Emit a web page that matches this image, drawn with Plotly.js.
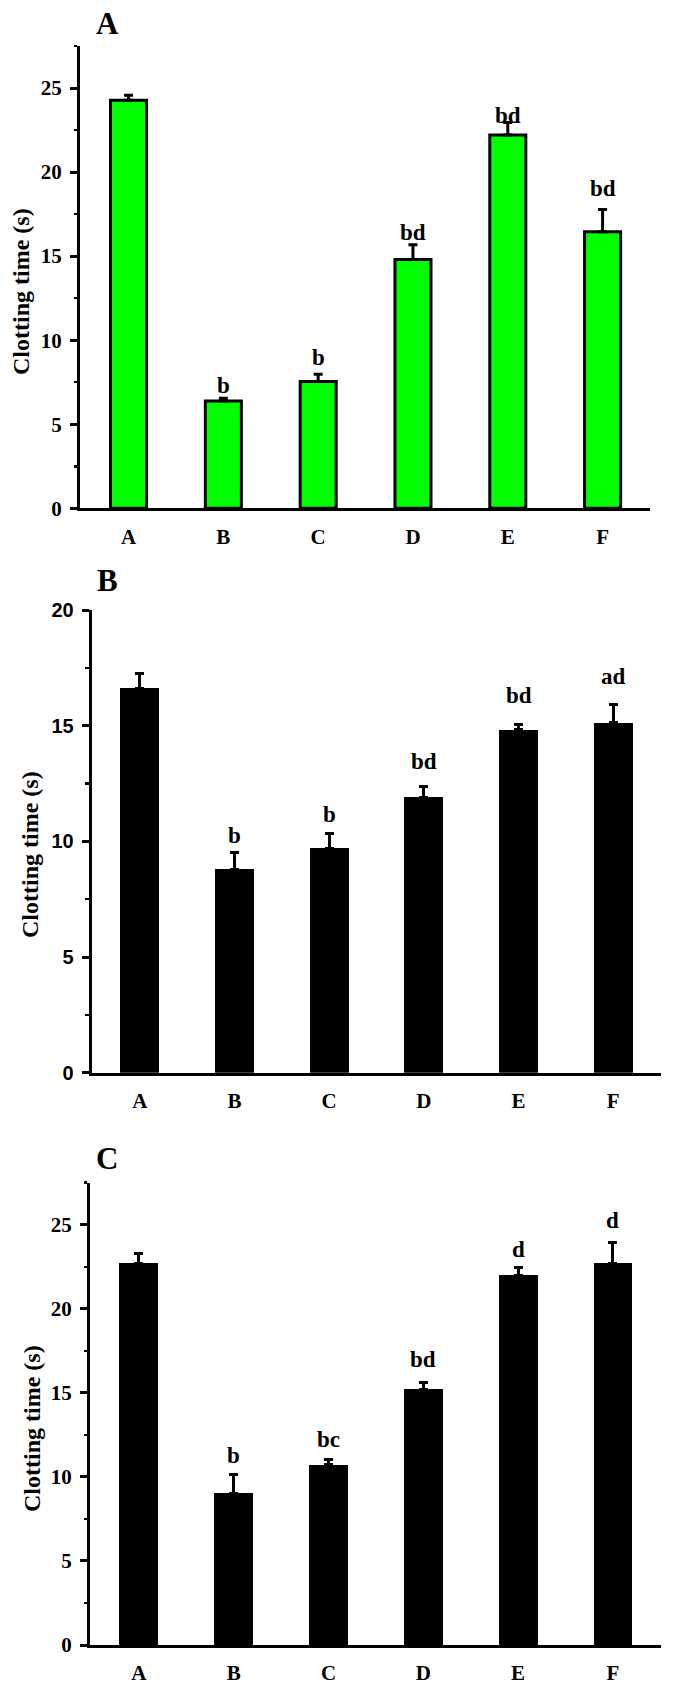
<!DOCTYPE html>
<html>
<head>
<meta charset="utf-8">
<script src="https://cdn.plot.ly/plotly-3.0.1.min.js"></script>
<style>
  html, body { margin: 0; padding: 0; background: #ffffff; }
  #chart { width: 673px; height: 1686px; }
</style>
</head>
<body>
<div id="chart"></div>
<script>
// ---- Data ----
const categories = ['A', 'B', 'C', 'D', 'E', 'F'];

const valuesA = [24.27, 6.38, 7.55, 14.80, 22.20, 16.45];
const errorsA = [0.30, 0.17, 0.42, 0.88, 0.75, 1.32];
const labelsA = ['', 'b', 'b', 'bd', 'bd', 'bd'];
const labelYA = [null, 7.30, 9.00, 16.40, 23.36, 19.04];

const valuesB = [16.61, 8.80, 9.71, 11.90, 14.82, 15.13];
const errorsB = [0.66, 0.71, 0.61, 0.48, 0.25, 0.78];
const labelsB = ['', 'b', 'b', 'bd', 'bd', 'ad'];
const labelYB = [null, 10.24, 11.18, 13.45, 16.30, 17.13];

const valuesC = [22.70, 9.03, 10.71, 15.22, 21.99, 22.72];
const errorsC = [0.56, 1.10, 0.32, 0.39, 0.47, 1.25];
const labelsC = ['', 'b', 'bc', 'bd', 'd', 'd'];
const labelYC = [null, 11.29, 12.21, 17.00, 23.54, 25.26];

const panelLetters = ['A', 'B', 'C'];
const yTitle = 'Clotting time (s)';

// ---- Layout helpers ----
const W = 673, H = 1686;
const px = x => x / W;
const py = y => 1 - y / H;

const SERIF = 'Liberation Serif, Times New Roman, serif';
const SANS = 'Liberation Sans, Arial, sans-serif';

// plot boxes (pixel coordinates)
const boxes = [
  {l: 80, r: 650, t: 46, b: 508.3, range: [-0.512, 5.50], yr: [0, 27.5], tickFont: SERIF, tickSize: 21},
  {l: 91.7, r: 661.3, t: 610, b: 1072.7, range: [-0.507, 5.508], yr: [0, 20], tickFont: SANS, tickSize: 20},
  {l: 90, r: 661.3, t: 1182.7, b: 1645, range: [-0.515, 5.51], yr: [0, 27.5], tickFont: SERIF, tickSize: 21}
];
const titlePos = [[21, 292], [30, 855], [32, 1429]];
const letterPos = [[107.5, 24], [107, 581], [107.5, 1158]];

const zeros = categories.map(() => 0);

function barTrace(vals, errs, idx, green) {
  const s = idx === 0 ? '' : String(idx + 1);
  return {
    type: 'bar',
    x: categories,
    y: vals,
    xaxis: 'x' + s,
    yaxis: 'y' + s,
    width: green ? 0.38 : 0.41,
    marker: {
      color: green ? '#00ff00' : '#000000',
      line: {color: '#000000', width: green ? 3 : 0}
    },
    error_y: {
      type: 'data',
      array: errs,
      symmetric: false,
      arrayminus: zeros,
      color: '#000000',
      thickness: 3,
      width: 4.5
    },
    hoverinfo: 'skip',
    showlegend: false
  };
}

const data = [
  barTrace(valuesA, errorsA, 0, true),
  barTrace(valuesB, errorsB, 1, false),
  barTrace(valuesC, errorsC, 2, false)
];

const layout = {
  width: W,
  height: H,
  margin: {l: 0, r: 0, t: 0, b: 0, pad: 0},
  paper_bgcolor: '#ffffff',
  plot_bgcolor: '#ffffff',
  showlegend: false,
  bargap: 0,
  annotations: []
};

boxes.forEach((bx, i) => {
  const s = i === 0 ? '' : String(i + 1);
  layout['xaxis' + s] = {
    domain: [px(bx.l), px(bx.r)],
    anchor: 'y' + s,
    type: 'category',
    range: bx.range,
    showline: true,
    linecolor: '#000000',
    linewidth: 3,
    ticks: '',
    showgrid: false,
    zeroline: false,
    tickfont: {family: SERIF, size: 21, color: '#000000', weight: 'bold'},
    ticklabelstandoff: 7,
    fixedrange: true
  };
  layout['yaxis' + s] = {
    domain: [py(bx.b), py(bx.t)],
    anchor: 'x' + s,
    range: bx.yr,
    showline: true,
    linecolor: '#000000',
    linewidth: 3,
    ticks: 'outside',
    ticklen: 7,
    tickwidth: 3,
    tickcolor: '#000000',
    tick0: 0,
    dtick: 5,
    minor: {ticks: 'outside', dtick: 2.5, ticklen: 3.5, tickwidth: 2.5, tickcolor: '#000000', showgrid: false},
    showgrid: false,
    zeroline: false,
    tickfont: {family: bx.tickFont, size: bx.tickSize, color: '#000000', weight: 'bold'},
    ticklabelstandoff: 4,
    fixedrange: true
  };
  // y-axis title
  layout.annotations.push({
    xref: 'paper', yref: 'paper',
    x: px(titlePos[i][0]), y: py(titlePos[i][1]),
    xanchor: 'center', yanchor: 'middle',
    text: yTitle, textangle: -90, showarrow: false,
    font: {family: SERIF, size: 24, color: '#000000', weight: 'bold'}
  });
  // panel letter
  layout.annotations.push({
    xref: 'paper', yref: 'paper',
    x: px(letterPos[i][0]), y: py(letterPos[i][1]),
    xanchor: 'center', yanchor: 'middle',
    text: panelLetters[i], showarrow: false,
    font: {family: SERIF, size: 31, color: '#000000', weight: 'bold'}
  });
});

// significance letters
[[labelsA, labelYA], [labelsB, labelYB], [labelsC, labelYC]].forEach((pair, i) => {
  const s = i === 0 ? '' : String(i + 1);
  pair[0].forEach((t, j) => {
    if (!t) return;
    layout.annotations.push({
      xref: 'x' + s, yref: 'y' + s,
      x: categories[j], y: pair[1][j],
      xanchor: 'center', yanchor: 'middle',
      text: t, showarrow: false,
      font: {family: SERIF, size: 23, color: '#000000', weight: 'bold'}
    });
  });
});

Plotly.newPlot('chart', data, layout, {staticPlot: true, displayModeBar: false});
</script>
</body>
</html>
